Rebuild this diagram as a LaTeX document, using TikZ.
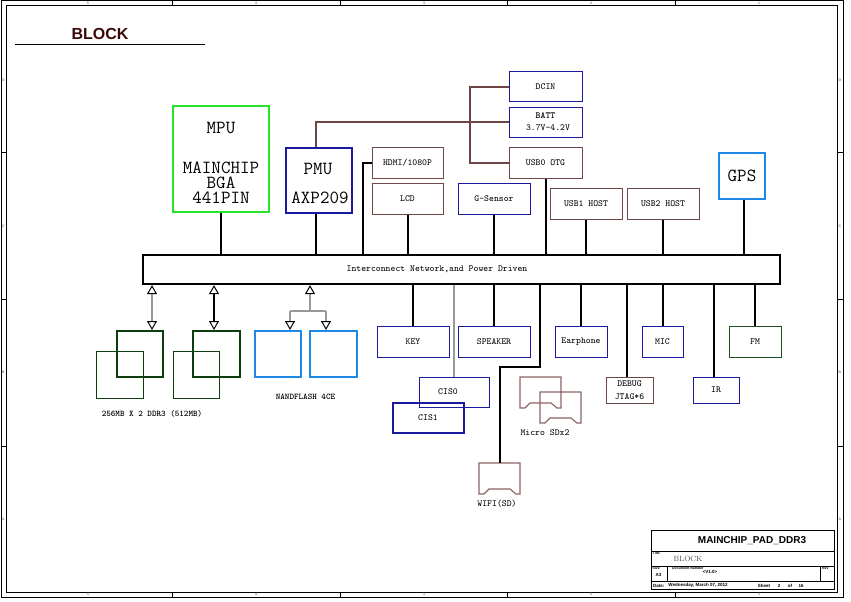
\documentclass[tikz,border=0pt]{standalone}
\usepackage{fontspec}
\setsansfont{Liberation Sans}
\usetikzlibrary{arrows.meta,calc}
\definecolor{mgreen}{RGB}{40,228,40}
\definecolor{dblue}{RGB}{26,26,160}
\definecolor{dbrown}{RGB}{112,72,72}
\definecolor{wbrown}{RGB}{110,68,68}
\definecolor{lblue}{RGB}{30,136,229}
\definecolor{dgreen}{RGB}{14,62,14}
\definecolor{fmgreen}{RGB}{31,79,31}
\definecolor{sdcol}{RGB}{140,100,100}
\definecolor{titlecol}{RGB}{58,8,8}
\newcommand\boxfont{\ttfamily\fontsize{9.3}{10}\selectfont}
\newcommand\bigfont{\ttfamily\fontsize{18.5}{20}\selectfont}
\newcommand\tinyfont{\sffamily\bfseries\fontsize{3.5}{4}\selectfont}
\begin{document}
\begin{tikzpicture}[x=1pt,y=-1pt,
  bx/.style={draw, inner sep=0pt, font=\boxfont, line width=1pt},
  blu/.style={bx, draw=dblue},
  brn/.style={bx, draw=dbrown},
  wire/.style={line width=2pt, black},
  pwire/.style={line width=2pt, wbrown},
  gwire/.style={line width=1.6pt, gray!80},
  sdc/.style={line width=1.1pt, draw=sdcol},
  otri/.tip={Triangle[open, width=10pt, length=9pt, line width=1pt, color=black]},
  lbl/.style={inner sep=0pt, font=\boxfont},
  sdcard/.pic={\draw[sdc] (0,0) -- (41,0) -- (41,31) -- (37,31) -- (31,26) -- (10,26) -- (5,31) -- (0,31) -- cycle;}
]
\useasboundingbox (0,0) rectangle (851,602);
\fill[white] (0,0) rectangle (851,602);

% ---------------- frame ----------------
\draw[line width=1pt] (1,1) rectangle (843,597);
\draw[line width=1pt] (6,6) rectangle (837,592);
\foreach \x in {172,340,507,675} {\draw[line width=0.8pt] (\x,1) -- (\x,6); \draw[line width=0.8pt] (\x,592) -- (\x,597);}
\foreach \y in {152,299,446} {\draw[line width=0.8pt] (1,\y) -- (6,\y); \draw[line width=0.8pt] (837,\y) -- (843,\y);}
\foreach \x/\t in {88/5,256/4,424/3,591/2,759/1} {\node[font=\tinyfont, text=gray] at (\x,3.5) {\t}; \node[font=\tinyfont, text=gray] at (\x,594.5) {\t};}
\foreach \y/\t in {80/D,226/C,372/B,519/A} {\node[font=\tinyfont, text=gray] at (3.5,\y) {\t}; \node[font=\tinyfont, text=gray] at (840,\y) {\t};}

% ---------------- title ----------------
\node[inner sep=0pt, font=\sffamily\bfseries\fontsize{16}{18}\selectfont, text=titlecol] (title) at (100,34) {BLOCK};
\draw[line width=1pt] (15,45) -- (205,45);

% ---------------- top blocks ----------------
\node[draw=mgreen, line width=2.2pt, minimum width=96pt, minimum height=106pt, inner sep=0pt] (mpu) at (221,159) {};
\node[inner sep=0pt, font=\bigfont] (mputa) at (221,128) {MPU};
\node[inner sep=0pt, align=center, font=\ttfamily\fontsize{18.5}{15}\selectfont] (mputb) at (221,183) {MAINCHIP\\BGA\\441PIN};

\node[draw=dblue, line width=2.4pt, minimum width=66pt, minimum height=65pt, inner sep=0pt] (pmu) at (319,180.5) {};
\node[inner sep=0pt, font=\bigfont] (pmuta) at (318,169) {PMU};
\node[inner sep=0pt, font=\bigfont] (pmutb) at (320,198) {AXP209};

\node[blu, minimum width=73pt, minimum height=29pt] (dcin) at (545.5,86.5) {DCIN};
\node[blu, minimum width=73pt, minimum height=30pt] (batt) at (545.5,122) {};
\node[lbl, font=\boxfont\bfseries] (batta) at (545.5,116) {BATT};
\node[lbl] (battb) at (548,127.5) {3.7V-4.2V};
\node[brn, minimum width=73pt, minimum height=31pt] (usb0) at (545.5,162.5) {USB0 OTG};

\node[brn, minimum width=71pt, minimum height=31pt] (hdmi) at (407.5,162.5) {HDMI/1080P};
\node[brn, minimum width=71pt, minimum height=31pt] (lcd) at (407.5,198.5) {LCD};
\node[blu, minimum width=72pt, minimum height=31pt] (gsens) at (494,198.5) {G-Sensor};
\node[brn, minimum width=72pt, minimum height=31pt] (usb1) at (586,203.5) {USB1 HOST};
\node[brn, minimum width=72pt, minimum height=31pt] (usb2) at (663,203.5) {USB2 HOST};
\node[draw=lblue, line width=2.4pt, minimum width=46pt, minimum height=46pt, inner sep=0pt, font=\bigfont] (gps) at (742,176) {GPS};

% ---------------- bus ----------------
\node[draw, line width=2.2pt, minimum width=637pt, minimum height=29pt, inner sep=0pt] (bus) at (461.5,269.5) {};
\node[lbl] (bustext) at (437,269) {Interconnect Network,and Power Driven};

% power wires
\coordinate (pj) at (470,0);
\draw[pwire] (dcin.west) -- (dcin.west -| pj) -- (usb0.west -| pj) -- (usb0.west);
\draw[pwire] ($(pmu.north)+(-3,0)$) |- (batt.west);

% top connections to bus
\draw[wire] (mpu.south) -- (mpu.south |- bus.north);
\draw[wire] ($(pmu.south)+(-3,0)$) -- ($(pmu.south |- bus.north)+(-3,0)$);
\coordinate (hx) at (363,162.5);
\draw[wire] (hdmi.west) -- (hx) -- (hx |- bus.north);
\draw[wire] (lcd.south) -- (lcd.south |- bus.north);
\draw[wire] (gsens.south) -- (gsens.south |- bus.north);
\draw[wire] (usb0.south) -- (usb0.south |- bus.north);
\draw[wire] (usb1.south) -- (usb1.south |- bus.north);
\draw[wire] (usb2.south) -- (usb2.south |- bus.north);
\draw[wire] ($(gps.south)+(1.5,0)$) -- ($(gps.south |- bus.north)+(1.5,0)$);

% ---------------- bottom blocks ----------------
\node[blu, minimum width=72pt, minimum height=31pt] (key) at (413,341.5) {KEY};
\node[blu, minimum width=72pt, minimum height=31pt] (spk) at (494,341.5) {SPEAKER};
\node[blu, minimum width=52pt, minimum height=31pt] (earp) at (581,341.5) {Earphone};
\node[blu, minimum width=41pt, minimum height=31pt] (mic) at (662.5,341.5) {MIC};
\node[bx, draw=fmgreen, minimum width=52pt, minimum height=31pt] (fm) at (755,341.5) {FM};
\node[blu, minimum width=70pt, minimum height=30pt] (cis0) at (454,392) {};
\node[lbl] (cis0t) at (448,391.5) {CIS0};
\node[bx, draw=dblue, line width=2.2pt, minimum width=71pt, minimum height=30pt] (cis1) at (428.5,418) {};
\node[lbl] (cis1t) at (428,417.5) {CIS1};
\node[brn, minimum width=47pt, minimum height=26pt] (debug) at (629.5,390) {};
\node[lbl] (debuga) at (629.5,383.5) {DEBUG};
\node[lbl] (debugb) at (629.5,396.5) {JTAG*6};
\node[blu, minimum width=46pt, minimum height=26pt] (ir) at (716,390) {IR};

\draw[wire] (key.north) -- (key.north |- bus.south);
\draw[wire] (spk.north) -- (spk.north |- bus.south);
\draw[wire] (earp.north) -- (earp.north |- bus.south);
\draw[wire] (mic.north) -- (mic.north |- bus.south);
\draw[wire] (fm.north) -- (fm.north |- bus.south);
\draw[gwire] (cis0.north) -- (cis0.north |- bus.south);
\draw[wire] ($(debug.north)+(-2.5,0)$) -- ($(debug.north |- bus.south)+(-2.5,0)$);
\draw[wire] ($(ir.north)+(-2.3,0)$) -- ($(ir.north |- bus.south)+(-2.3,0)$);

% SD cards
\pic at (520,377) {sdcard};
\pic at (540,392) {sdcard};
\node[lbl] (sdt) at (545,433) {Micro SDx2};
\pic at (479,463) {sdcard};
\coordinate (wifitop) at (500,463);
\node[lbl] (wifit) at (497,504) {WIFI(SD)};
\coordinate (wa) at (540,367);
\coordinate (wb) at (500,367);
\draw[wire] (wa |- bus.south) -- (wa) -- (wb) -- (wifitop);

% memory
\node[draw=dgreen, line width=2.4pt, minimum width=46pt, minimum height=46pt, inner sep=0pt] (ddra) at (140,354) {};
\node[draw=dgreen, line width=2.4pt, minimum width=47pt, minimum height=46pt, inner sep=0pt] (ddrb) at (216.5,354) {};
\node[draw=dgreen, line width=1pt, minimum width=47pt, minimum height=47pt, inner sep=0pt] (ddrc) at (119.5,374.5) {};
\node[draw=dgreen, line width=1pt, minimum width=46pt, minimum height=47pt, inner sep=0pt] (ddrd) at (196,374.5) {};
\node[draw=lblue, line width=2pt, minimum width=46pt, minimum height=46pt, inner sep=0pt] (nand1) at (278,354) {};
\node[draw=lblue, line width=2pt, minimum width=47pt, minimum height=46pt, inner sep=0pt] (nand2) at (333.5,354) {};
\node[inner sep=0pt, font=\ttfamily\bfseries\fontsize{8.7}{10}\selectfont] (ddrt) at (152,414) {256MB X 2 DDR3 (512MB)};
\node[inner sep=0pt, font=\ttfamily\bfseries\fontsize{8.7}{10}\selectfont] (nandt) at (305.5,397) {NANDFLASH 4CE};

\coordinate (a1) at (152,330);
\coordinate (a2) at (214,330);
\draw[gwire, {otri}-{otri}] (a1 |- bus.south) -- (a1);
\draw[wire, {otri}-{otri}] (a2 |- bus.south) -- (a2);
\coordinate (nj) at (310,311);
\coordinate (n1) at (290,311);
\coordinate (n2) at (326,311);
\draw[gwire, {otri}-] (nj |- bus.south) -- (nj);
\draw[gwire] (n1) -- (n2);
\draw[gwire, -{otri}] (n1) -- (n1 |- nand1.north);
\draw[gwire, -{otri}] (n2) -- (n2 |- nand2.north);

% ---------------- title block ----------------
\draw[line width=1pt] (651,530) rectangle (834,589);
\draw[line width=0.8pt] (651,551) -- (834,551);
\draw[line width=0.8pt] (651,566) -- (834,566);
\draw[line width=0.8pt] (651,581.5) -- (834,581.5);
\draw[line width=0.8pt] (667,566) -- (667,581.5);
\draw[line width=0.8pt] (820,566) -- (820,581.5);
\node[inner sep=0pt, font=\sffamily\bfseries\fontsize{10}{12}\selectfont] (tbname) at (752,541) {MAINCHIP\_PAD\_DDR3};
\node[inner sep=0pt, anchor=north west, font=\tinyfont] (tbtitle) at (652.5,552) {Title};
\node[inner sep=0pt, font=\rmfamily\fontsize{7.5}{8}\selectfont, text=black!70] (tbblock) at (688,558.5) {BLOCK};
\node[inner sep=0pt, anchor=north west, font=\tinyfont] (tbsize) at (652.5,567) {Size};
\node[inner sep=0pt, font=\sffamily\bfseries\fontsize{4.5}{5}\selectfont] (tba3) at (658.5,575) {A3};
\node[inner sep=0pt, anchor=north west, font=\tinyfont] (tbdoc) at (672,567) {Document Number};
\node[inner sep=0pt, font=\sffamily\bfseries\fontsize{4.5}{5}\selectfont] (tbver) at (710,572) {<V1.0>};
\node[inner sep=0pt, anchor=north west, font=\tinyfont] (tbrev) at (822,567) {Rev};
\node[inner sep=0pt, anchor=west, font=\sffamily\bfseries\fontsize{4.5}{5}\selectfont] (tbdate) at (653,585.5) {Date:};
\node[inner sep=0pt, font=\sffamily\bfseries\fontsize{4.5}{5}\selectfont] (tbdatev) at (698,585.5) {Wednesday, March 07, 2012};
\node[inner sep=0pt, font=\sffamily\bfseries\fontsize{4.5}{5}\selectfont] (tbsheet) at (764,585.5) {Sheet};
\node[inner sep=0pt, font=\sffamily\bfseries\fontsize{4.5}{5}\selectfont] (tbsn) at (779,585.5) {2};
\node[inner sep=0pt, font=\sffamily\bfseries\fontsize{4.5}{5}\selectfont] (tbof) at (790,585.5) {of};
\node[inner sep=0pt, font=\sffamily\bfseries\fontsize{4.5}{5}\selectfont] (tbtot) at (801,585.5) {16};
\end{tikzpicture}
\end{document}
